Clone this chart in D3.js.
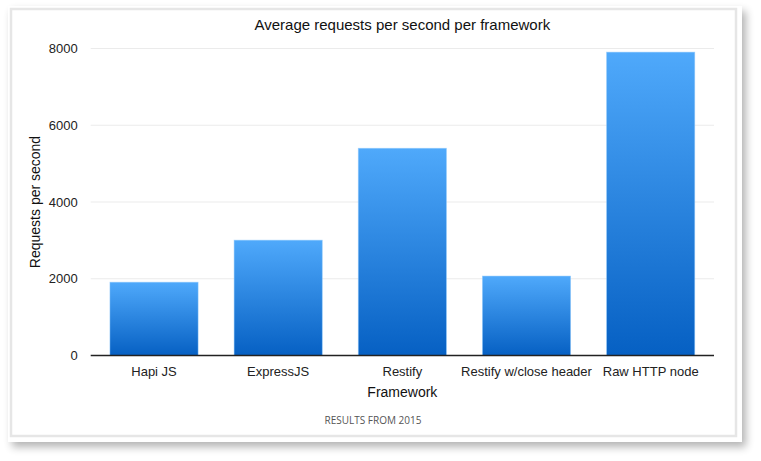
<!DOCTYPE html>
<html><head><meta charset="utf-8">
<script src="https://cdn.jsdelivr.net/npm/d3@7"></script>
<style>
html,body{margin:0;padding:0;background:#fff;}
svg{display:block;}
</style></head>
<body>
<svg id="chart" width="761" height="461"></svg>
<script>
const categories = ["Hapi JS","ExpressJS","Restify","Restify w/close header","Raw HTTP node"];
const values = [1910, 3005, 5400, 2070, 7905];
const yTicks = [0, 2000, 4000, 6000, 8000];
const title = "Average requests per second per framework";
const xTitle = "Framework";
const yTitle = "Requests per second";
const caption = "RESULTS FROM 2015";

(function(){
const svg = d3.select("#chart");
const defs = svg.append("defs");
const sh = defs.append("filter").attr("id","shadow").attr("x","-5%").attr("y","-5%").attr("width","115%").attr("height","115%");
sh.append("feGaussianBlur").attr("in","SourceAlpha").attr("stdDeviation",4);
sh.append("feOffset").attr("dx",4).attr("dy",5).attr("result","ob");
sh.append("feComponentTransfer").append("feFuncA").attr("type","linear").attr("slope",0.3);
const m = sh.append("feMerge"); m.append("feMergeNode"); m.append("feMergeNode").attr("in","SourceGraphic");

const grad = defs.append("linearGradient").attr("id","barGrad").attr("x1",0).attr("y1",0).attr("x2",0).attr("y2",1);
grad.append("stop").attr("offset","0%").attr("stop-color","#4fa9fb");
grad.append("stop").attr("offset","100%").attr("stop-color","#0660c3");

// card
svg.append("rect").attr("x",8).attr("y",6).attr("width",734).attr("height",436).attr("fill","#fff").attr("filter","url(#shadow)");
svg.append("rect").attr("x",11).attr("y",9).attr("width",725).attr("height",427).attr("fill","#fff").attr("stroke","#e6e6e6").attr("stroke-width",2.5);

const pL = 90.7, pR = 714, pT = 48.5, pB = 355.5;
const x = d3.scaleBand().domain(categories).range([pL,pR]).paddingInner(0.29).paddingOuter(0.155);
const y = d3.scaleLinear().domain([0,8000]).range([pB,pT]);

const font = "'Liberation Sans', Arial, Helvetica, sans-serif";

// gridlines
svg.append("g").selectAll("line").data(yTicks.filter(d=>d>0)).join("line")
  .attr("x1",pL).attr("x2",pR).attr("y1",d=>y(d)).attr("y2",d=>y(d))
  .attr("stroke","#ebebeb").attr("stroke-width",1);

// y axis labels
const yAxis = d3.axisLeft(y).tickValues(yTicks).tickSize(0).tickPadding(13).tickFormat(d3.format("d"));
const gy = svg.append("g").attr("transform",`translate(${pL},0)`).call(yAxis);
gy.select(".domain").remove();
gy.selectAll("text").attr("font-family",font).attr("font-size",13).attr("fill","#222");

// bars
svg.append("g").selectAll("rect").data(values).join("rect")
  .attr("x",(d,i)=>x(categories[i])).attr("width",x.bandwidth())
  .attr("y",d=>y(d)).attr("height",d=>pB-y(d))
  .attr("fill","url(#barGrad)").attr("stroke","#8ec8fb").attr("stroke-width",0.8).attr("stroke-opacity",0.6);

// x axis
const xAxis = d3.axisBottom(x).tickSize(0).tickPadding(11);
const gx = svg.append("g").attr("transform",`translate(0,${pB})`).call(xAxis);
gx.select(".domain").attr("stroke","#222").attr("stroke-width",1.3).attr("d",`M${pL},0H${pR}`);
gx.selectAll("text").attr("font-family",font).attr("font-size",13).attr("fill","#222");

// titles
svg.append("text").attr("x",(pL+pR)/2).attr("y",30).attr("text-anchor","middle")
  .attr("font-family",font).attr("font-size",15).attr("fill","#111").text(title);
svg.append("text").attr("x",(pL+pR)/2).attr("y",397).attr("text-anchor","middle")
  .attr("font-family",font).attr("font-size",14).attr("fill","#111").text(xTitle);
svg.append("text").attr("transform",`translate(40,${(pT+pB)/2}) rotate(-90)`).attr("text-anchor","middle")
  .attr("font-family",font).attr("font-size",14).attr("fill","#111").text(yTitle);
svg.append("text").attr("x",373).attr("y",424).attr("text-anchor","middle")
  .attr("font-family","'Open Sans', sans-serif").attr("font-size",10).attr("fill","#555").text(caption);
})();
</script>
</body></html>
